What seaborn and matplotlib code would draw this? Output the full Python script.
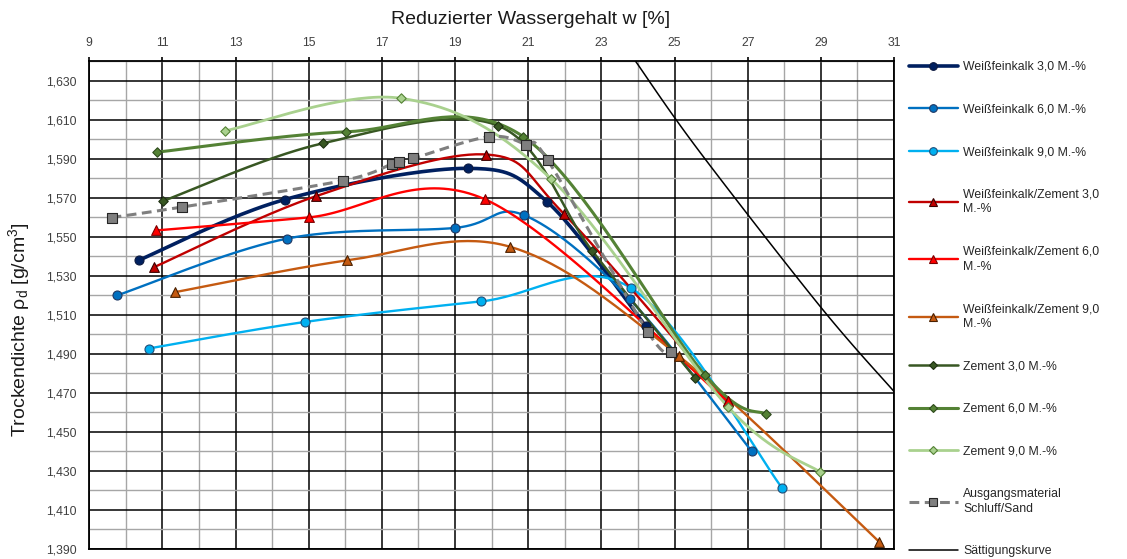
import numpy as np
import matplotlib
matplotlib.use("Agg")
import matplotlib.pyplot as plt
import seaborn as sns
from matplotlib.lines import Line2D

# ---------------- data ----------------
wfk3_x = [10.36, 14.34, 19.34, 21.51, 24.22]
wfk3_y = [1.538, 1.569, 1.585, 1.568, 1.504]

wfk6_x = [9.77, 14.40, 19.00, 20.89, 23.77, 27.11]
wfk6_y = [1.520, 1.549, 1.5545, 1.561, 1.518, 1.440]

wfk9_x = [10.62, 14.89, 19.70, 23.81, 27.95]
wfk9_y = [1.4927, 1.5063, 1.5168, 1.5237, 1.421]

wz3_x = [10.76, 15.19, 19.85, 21.98, 26.45]
wz3_y = [1.5343, 1.5707, 1.5921, 1.5616, 1.4656]

wz6_x = [10.83, 15.01, 19.81, 26.45]
wz6_y = [1.5532, 1.5599, 1.5692, 1.4656]

wz9_x = [11.35, 16.04, 20.49, 25.11, 30.60]
wz9_y = [1.5216, 1.5378, 1.5449, 1.489, 1.3936]

z3_x = [11.02, 15.38, 20.17, 22.75, 25.56]
z3_y = [1.5683, 1.5978, 1.6069, 1.5427, 1.4777]

z6_x = [10.85, 16.02, 20.87, 25.84, 27.50]
z6_y = [1.5933, 1.6037, 1.6012, 1.479, 1.459]

z9_x = [12.70, 17.52, 21.63, 26.45, 28.98]
z9_y = [1.6042, 1.6209, 1.5795, 1.463, 1.4294]

ausg_x = [9.61, 11.54, 15.93, 17.28, 17.48, 17.86, 19.92, 20.95, 21.53, 24.27, 24.91]
ausg_y = [1.5598, 1.5652, 1.5787, 1.5873, 1.5881, 1.5901, 1.6012, 1.597, 1.5893, 1.5012, 1.4909]

sat_x = [23.93, 25.65, 28.98, 31.00]
sat_y = [1.640, 1.5944, 1.5143, 1.4707]

x_ticks = [9, 11, 13, 15, 17, 19, 21, 23, 25, 27, 29, 31]
y_ticks = [1.390, 1.410, 1.430, 1.450, 1.470, 1.490, 1.510, 1.530, 1.550, 1.570, 1.590, 1.610, 1.630]
y_tick_labels = ["1,390", "1,410", "1,430", "1,450", "1,470", "1,490", "1,510",
                 "1,530", "1,550", "1,570", "1,590", "1,610", "1,630"]

labels = ["Weißfeinkalk 3,0 M.-%", "Weißfeinkalk 6,0 M.-%", "Weißfeinkalk 9,0 M.-%",
          "Weißfeinkalk/Zement 3,0\nM.-%", "Weißfeinkalk/Zement 6,0\nM.-%",
          "Weißfeinkalk/Zement 9,0\nM.-%", "Zement 3,0 M.-%", "Zement 6,0 M.-%",
          "Zement 9,0 M.-%", "Ausgangsmaterial\nSchluff/Sand", "Sättigungskurve"]

# ---------------- style ----------------
sns.set_style("white")
plt.rcParams["font.family"] = ["Liberation Sans", "DejaVu Sans"]
plt.rcParams["mathtext.fontset"] = "custom"
plt.rcParams["mathtext.rm"] = "Liberation Sans"
plt.rcParams["mathtext.it"] = "Liberation Sans:italic"


def excel_smooth(xs, ys, n=40):
    P = np.column_stack([xs, ys]).astype(float)
    m = len(P)
    out = [P[0]]
    t = np.linspace(0, 1, n)[1:, None]
    for i in range(m - 1):
        p0 = P[i - 1] if i > 0 else P[i]
        p1, p2 = P[i], P[i + 1]
        p3 = P[i + 2] if i + 2 < m else P[i + 1]
        c1 = p1 + (p2 - p0) / 6.0
        c2 = p2 - (p3 - p1) / 6.0
        seg = (1 - t) ** 3 * p1 + 3 * (1 - t) ** 2 * t * c1 + 3 * (1 - t) * t ** 2 * c2 + t ** 3 * p2
        out.extend(seg)
    return np.array(out)


series = [
    # x, y, line color, lw, marker, marker size(pt), face, edge, linestyle
    (wfk3_x, wfk3_y, "#002060", 2.6, "o", 6.5, "#002060", "#0d1a40", "-"),
    (wfk6_x, wfk6_y, "#0070C0", 1.7, "o", 6.5, "#0070C0", "#1f3864", "-"),
    (wfk9_x, wfk9_y, "#00B0F0", 1.7, "o", 6.5, "#00B0F0", "#1f4e79", "-"),
    (wz3_x, wz3_y, "#C00000", 1.7, "^", 7.0, "#C00000", "#3a0000", "-"),
    (wz6_x, wz6_y, "#FF0000", 1.7, "^", 7.0, "#FF0000", "#7a0000", "-"),
    (wz9_x, wz9_y, "#C55A11", 1.7, "^", 7.0, "#C55A11", "#4a2000", "-"),
    (z3_x, z3_y, "#385723", 1.8, "D", 4.8, "#385723", "#1e3012", "-"),
    (z6_x, z6_y, "#548235", 2.2, "D", 4.8, "#548235", "#2e4a1c", "-"),
    (z9_x, z9_y, "#A9D18E", 2.0, "D", 4.8, "#A9D18E", "#548235", "-"),
    (ausg_x, ausg_y, "#7F7F7F", 2.2, "s", 6.8, "#7F7F7F", "#262626", (0, (3.2, 1.8))),
]

fig = plt.figure(figsize=(11.27, 5.59), dpi=100)
ax = fig.add_axes([89.3 / 1127, 1 - 549 / 559, (894 - 89.3) / 1127, (549 - 61) / 559])

# grid
ax.set_xlim(9, 31)
ax.set_ylim(1.390, 1.640)
ax.set_xticks(x_ticks)
ax.set_xticks(np.arange(10, 31, 2), minor=True)
ax.set_yticks(y_ticks)
ax.set_yticks(np.arange(1.400, 1.641, 0.020), minor=True)
ax.set_yticklabels(y_tick_labels)
ax.set_axisbelow(True)
ax.grid(which="minor", color="#a6a6a6", lw=1.0)
ax.grid(which="major", color="black", lw=1.1)
for s in ax.spines.values():
    s.set_color("black")
    s.set_linewidth(1.3)

ax.xaxis.tick_top()
ax.xaxis.set_label_position("top")
ax.tick_params(axis="both", which="major", length=3, width=1.2, color="black",
               labelsize=8.8, labelcolor="#404040")
ax.tick_params(axis="x", which="major", pad=5.5, top=True, bottom=False)
ax.tick_params(axis="y", which="major", pad=6)
ax.tick_params(which="minor", length=0)

# saturation curve
sat = excel_smooth(sat_x, sat_y)
sns.lineplot(x=sat[:, 0], y=sat[:, 1], sort=False, estimator=None, color="black",
             lw=1.1, ax=ax, zorder=2)

handles = []
for i, (xs, ys, col, lw, mk, ms, fc, ec, ls) in enumerate(series):
    c = excel_smooth(xs, ys)
    sns.lineplot(x=c[:, 0], y=c[:, 1], sort=False, estimator=None, color=col, lw=lw,
                 linestyle=ls, ax=ax, zorder=3 + i * 0.01)
    sns.scatterplot(x=xs, y=ys, marker=mk, s=ms ** 2, color=fc, edgecolor=ec,
                    linewidth=0.8, ax=ax, zorder=4 + i * 0.01)
    handles.append(Line2D([0], [0], color=col, lw=lw, linestyle=ls, marker=mk,
                          markersize=ms * 0.85, markerfacecolor=fc, markeredgecolor=ec,
                          markeredgewidth=0.8))
handles.append(Line2D([0], [0], color="black", lw=1.1))

ax.set_xlabel("Reduzierter Wassergehalt w [%]", fontsize=14, color="#1a1a1a",
              ha="center", va="center")
ax.xaxis.set_label_coords((531 - 89.3) / 804.7, (549 - 20) / 488)
ax.set_ylabel("Trockendichte ρ$_\\mathregular{d}$ [g/cm$^\\mathregular{3}$]", fontsize=14,
              color="#1a1a1a", ha="center", va="center")
ax.yaxis.set_label_coords((19.5 - 89.3) / 804.7, (549 - 330) / 488)

leg = fig.legend(handles, labels, loc="upper left",
                 bbox_to_anchor=(909 / 1127, 1 - 61 / 559), frameon=False,
                 fontsize=8.8, labelspacing=2.5, handlelength=4.0, handletextpad=0.45,
                 borderaxespad=0, borderpad=0)
for t in leg.get_texts():
    t.set_color("#262626")
    t.set_linespacing(1.3)

fig.savefig("out.png", dpi=100)
